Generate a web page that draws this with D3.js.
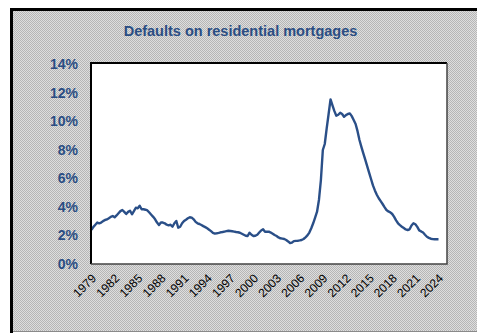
<!DOCTYPE html>
<html><head><meta charset="utf-8">
<script src="https://cdn.jsdelivr.net/npm/d3@7"></script>
<style>html,body{margin:0;padding:0;background:#fff;overflow:hidden}</style>
</head><body>
<script>
const title = "Defaults on residential mortgages";
const startYear = 1979;
// quarterly default rate (%) from 1979Q1 to 2024Q1
const values = [
 2.4,2.6,2.75,2.9, 2.85,2.9,3.0,3.08, 3.12,3.2,3.3,3.36, 3.27,3.4,3.55,3.7,
 3.78,3.65,3.5,3.65, 3.73,3.48,3.7,3.94, 3.9,4.08,3.83,3.83, 3.8,3.75,3.6,3.45,
 3.3,3.13,2.9,2.73, 2.9,2.9,2.85,2.75, 2.71,2.75,2.61,2.85, 3.01,2.54,2.61,2.85,
 3.01,3.1,3.2,3.27, 3.25,3.13,2.95,2.85, 2.8,2.73,2.65,2.58, 2.5,2.4,2.3,2.18,
 2.13,2.15,2.18,2.22, 2.24,2.27,2.3,2.33, 2.31,2.29,2.27,2.24, 2.22,2.19,2.12,2.05,
 1.98,1.96,2.19,2.05, 1.96,1.98,2.05,2.2, 2.35,2.43,2.26,2.26, 2.26,2.2,2.12,2.03,
 1.96,1.86,1.8,1.78, 1.75,1.68,1.58,1.47, 1.5,1.6,1.62,1.63, 1.65,1.68,1.75,1.87,
 2.0,2.2,2.5,2.85, 3.25,3.66,4.5,5.88, 7.98,8.4,9.5,10.5, 11.52,11.1,10.7,10.38,
 10.45,10.59,10.5,10.31, 10.42,10.5,10.54,10.35, 10.08,9.8,9.3,8.68, 8.2,7.75,7.3,6.85,
 6.4,5.95,5.5,5.15, 4.85,4.6,4.4,4.2, 3.98,3.78,3.68,3.62, 3.5,3.3,3.05,2.85,
 2.72,2.61,2.52,2.42, 2.38,2.43,2.7,2.85, 2.78,2.6,2.35,2.28, 2.2,2.05,1.91,1.83,
 1.77,1.74,1.73,1.73, 1.73
];
const tickYears = [1979,1982,1985,1988,1991,1994,1997,2000,2003,2006,2009,2012,2015,2018,2021,2024];
const yTicks = [0,2,4,6,8,10,12,14];

const W = 477, H = 333;
const plot = {left: 91, top: 63, right: 447, bottom: 264};

const svg = d3.select("body").append("svg").attr("width", W).attr("height", H);
const defs = svg.append("defs");
const pat = defs.append("pattern").attr("id","dither").attr("width",2).attr("height",2)
  .attr("patternUnits","userSpaceOnUse");
pat.append("rect").attr("width",2).attr("height",2).attr("fill","#dedede");
pat.append("rect").attr("x",0).attr("y",0).attr("width",1).attr("height",1).attr("fill","#b6b6b6");
pat.append("rect").attr("x",1).attr("y",1).attr("width",1).attr("height",1).attr("fill","#b6b6b6");

// outer frame
svg.append("rect").attr("x",11.5).attr("y",9.5).attr("width",480).attr("height",322)
  .attr("fill","url(#dither)").attr("stroke","none");
svg.append("line").attr("x1",11.5).attr("x2",W).attr("y1",331.5).attr("y2",331.5)
  .attr("stroke","#8a8a8a").attr("stroke-width",1);
svg.append("path").attr("d",`M11.5,${H} V9.5 H${W}`).attr("fill","none")
  .attr("stroke","#000").attr("stroke-width",3);

// title
svg.append("text").attr("x",240.5).attr("y",36).attr("text-anchor","middle")
  .attr("font-family","Liberation Sans, Arial, sans-serif").attr("font-weight","bold")
  .attr("font-size",14.5).attr("fill","#2a4d83").text(title);

// plot area
svg.append("rect").attr("x",plot.left).attr("y",plot.top)
  .attr("width",plot.right-plot.left).attr("height",plot.bottom-plot.top)
  .attr("fill","#fff");

const x = d3.scaleLinear().domain([0, values.length-1]).range([plot.left+0.5, 438.5]);
const y = d3.scaleLinear().domain([0,14]).range([plot.bottom, plot.top+1]);

// y axis labels
const yAxis = d3.axisLeft(y).tickValues(yTicks).tickSize(0).tickPadding(13)
  .tickFormat(d => d + "%");
const gy = svg.append("g").attr("transform",`translate(${plot.left},0)`).call(yAxis);
gy.select(".domain").remove();
gy.selectAll("text").attr("font-family","Liberation Sans, Arial, sans-serif")
  .attr("font-weight","bold").attr("font-size",14).attr("fill","#2a4d83");

// x axis labels
const xAxis = d3.axisBottom(x).tickValues(tickYears.map(yr => (yr-startYear)*4))
  .tickSize(0).tickFormat(i => String(startYear + i/4));
const gx = svg.append("g").attr("transform",`translate(0,${plot.bottom})`).call(xAxis);
gx.select(".domain").remove();
gx.selectAll("text").attr("font-family","Liberation Sans, Arial, sans-serif")
  .attr("font-size",12).attr("fill","#000")
  .attr("text-anchor","end").attr("dy",0).attr("y",0)
  .attr("transform","translate(5,15) rotate(-45)");

// line
const line = d3.line().x((d,i)=>x(i)).y(d=>y(d));
svg.append("path").datum(values).attr("d",line).attr("fill","none")
  .attr("stroke","#2a4f88").attr("stroke-width",2.4).attr("stroke-linejoin","round");

// plot frame
svg.append("path").attr("d",`M${plot.left},${plot.bottom} V${plot.top} H${plot.right}`)
  .attr("fill","none").attr("stroke","#000").attr("stroke-width",2);
svg.append("path").attr("d",`M${plot.right},${plot.top} V${plot.bottom} H${plot.left}`)
  .attr("fill","none").attr("stroke","#444").attr("stroke-width",1.5);
</script>
</body></html>
